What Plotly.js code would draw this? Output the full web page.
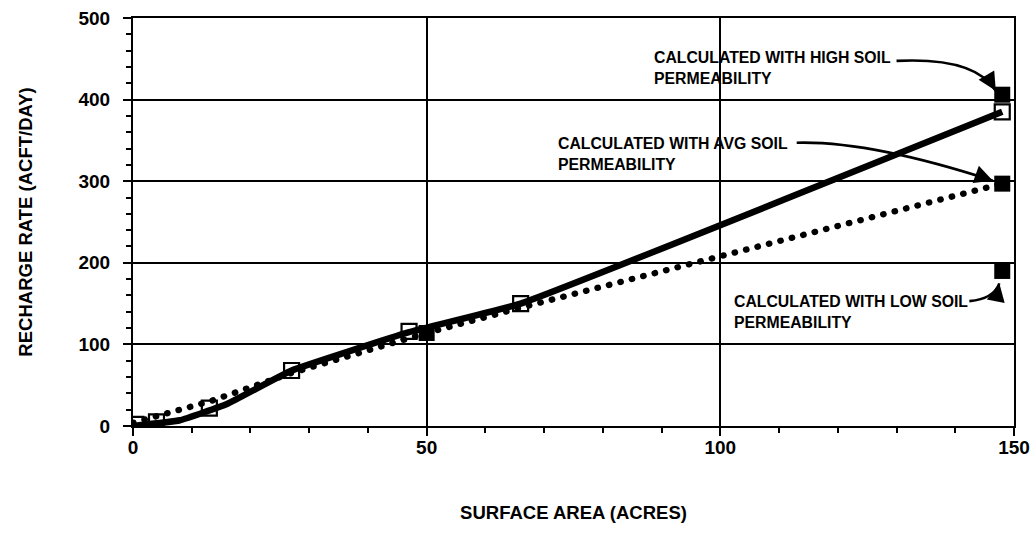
<!DOCTYPE html>
<html>
<head>
<meta charset="utf-8">
<script src="https://cdn.plot.ly/plotly-3.0.1.min.js"></script>
<style>
html, body { margin: 0; padding: 0; background: #fff; }
#chart { width: 1033px; height: 549px; }
.scatterlayer .trace:nth-of-type(2) .js-line { stroke-linecap: round; }
</style>
</head>
<body>
<div id="chart"></div>
<script>
// ---- data ----
const solidX  = [0, 8, 16, 27, 47, 66, 148];
const solidY  = [0, 7, 27, 68, 115, 150, 385];

const dottedX = [0, 5, 13, 27, 38, 50, 66, 148];
const dottedY = [4, 14, 30, 65, 89, 114, 145, 297];

const openX   = [0.5, 4, 13, 27, 47, 66, 148];
const openY   = [2, 5, 22, 68, 116, 150, 385];

const filledX = [50, 148, 148, 148];
const filledY = [114, 406, 297, 190];

const xTicks = [0, 50, 100, 150];
const yTicks = [0, 100, 200, 300, 400, 500];

const notes = [
  "CALCULATED WITH HIGH SOIL<br>PERMEABILITY",
  "CALCULATED WITH AVG SOIL<br>PERMEABILITY",
  "CALCULATED WITH LOW SOIL<br>PERMEABILITY"
];
// text anchors (data coords)
const noteX = [88.4, 72.0, 102.0];
const noteY = [464, 359, 165];
// curved leader lines: start, control, end (data coords)
const leaders = [
  [[130.0, 447.4], [143.4, 452.3], [146.9, 410.8]],
  [[113.0, 347.2], [125.5, 349.6], [146.4, 300.7]],
  [[142.4, 153.0], [146.6, 156.0], [147.5, 174.8]]
];
const headOffsets = [[-6, -10], [-11, -4], [-2, 10]];

const FONT = "'Liberation Sans', Arial, Helvetica, sans-serif";

const traces = [
  { x: solidX, y: solidY, mode: 'lines', type: 'scatter',
    line: { color: '#000', width: 6.5, shape: 'spline', smoothing: 0.3 }, hoverinfo: 'skip' },
  { x: dottedX, y: dottedY, mode: 'lines', type: 'scatter',
    line: { color: '#000', width: 6.3, dash: '0.5px,11.3px' }, hoverinfo: 'skip' },
  { x: openX, y: openY, mode: 'markers', type: 'scatter',
    marker: { symbol: 'square-open', size: 15, color: '#000', line: { width: 2.2, color: '#000' } } },
  { x: filledX, y: filledY, mode: 'markers', type: 'scatter',
    marker: { symbol: 'square', size: 16, color: '#000' } }
];

const shapes = leaders.map(p => ({
  type: 'path', xref: 'x', yref: 'y',
  path: `M ${p[0][0]},${p[0][1]} Q ${p[1][0]},${p[1][1]} ${p[2][0]},${p[2][1]}`,
  line: { color: '#000', width: 2.6 }
}));

const annotations = [];
notes.forEach((t, i) => {
  annotations.push({
    x: noteX[i], y: noteY[i], xref: 'x', yref: 'y', text: t,
    showarrow: false, xanchor: 'left', yanchor: 'top', align: 'left',
    font: { family: FONT, size: 15.8, color: '#000', weight: 'bold' }
  });
  const end = leaders[i][2];
  annotations.push({
    x: end[0], y: end[1], xref: 'x', yref: 'y', text: '',
    showarrow: true, arrowhead: 2, arrowsize: 1.4, arrowwidth: 2.6, arrowcolor: '#000',
    ax: headOffsets[i][0], ay: headOffsets[i][1], standoff: 0
  });
});

const axisCommon = {
  showline: true, linecolor: '#000', linewidth: 2, mirror: true,
  showgrid: true, gridcolor: '#000', gridwidth: 2,
  zeroline: false,
  ticks: 'outside', ticklen: 8, tickwidth: 2, tickcolor: '#000',
  tickfont: { family: FONT, size: 19, color: '#000', weight: 'bold' },
  fixedrange: true
};

const layout = {
  width: 1033, height: 549,
  margin: { l: 133, r: 19, t: 18, b: 123 },
  paper_bgcolor: '#fff', plot_bgcolor: '#fff',
  showlegend: false,
  xaxis: Object.assign({}, axisCommon, {
    range: [0, 150], tickmode: 'array', tickvals: xTicks, ticktext: xTicks.map(String),
    ticklabelstandoff: -5,
    minor: { dtick: 10, ticks: 'outside', ticklen: 5, tickwidth: 2, tickcolor: '#000', showgrid: false },
    title: { text: 'SURFACE AREA (ACRES)', standoff: 49,
             font: { family: FONT, size: 18.5, color: '#000', weight: 'bold' } }
  }),
  yaxis: Object.assign({}, axisCommon, {
    range: [0, 500], tickmode: 'array', tickvals: yTicks, ticktext: yTicks.map(String),
    ticklabelstandoff: 9,
    minor: { dtick: 20, ticks: 'outside', ticklen: 5, tickwidth: 2, tickcolor: '#000', showgrid: false },
    title: { text: 'RECHARGE RATE (ACFT/DAY)', standoff: 41,
             font: { family: FONT, size: 18.5, color: '#000', weight: 'bold' } }
  }),
  shapes: shapes,
  annotations: annotations
};

Plotly.newPlot('chart', traces, layout, { staticPlot: true, displayModeBar: false });
</script>
</body>
</html>
